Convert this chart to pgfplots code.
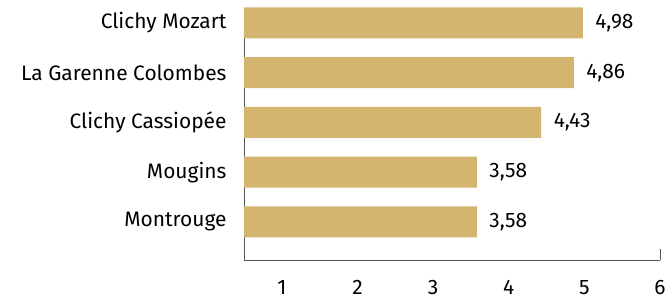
\documentclass[border=0pt]{standalone}
\usepackage{pgfplots}
\pgfplotsset{compat=1.18}
\usepackage{fontspec}
\setmainfont{Fira Sans}
\definecolor{barcol}{HTML}{D3B570}
\definecolor{axcol}{HTML}{555555}
\begin{document}
\begin{tikzpicture}
\path[use as bounding box] (-244bp,-41bp) rectangle (422bp,260bp);
\begin{axis}[
  at={(0,0)}, anchor=south west,
  scale only axis, width=416bp, height=252bp,
  xbar, bar width=31bp,
  xmin=0.5, xmax=6, ymin=-0.764, ymax=4.30,
  axis x line*=bottom, axis y line*=left,
  axis line style={draw=axcol, line width=0.9bp, -},
  xtick={1,2,3,4,5,6},
  ytick={0,1,2,3,4},
  yticklabels={Montrouge, Mougins, Clichy Cassiopée, La Garenne Colombes, Clichy Mozart},
  major tick length=0pt,
  extra x ticks={6}, extra x tick labels={},
  extra x tick style={tick align=inside, major tick length=11bp, tick style={draw=axcol, line width=0.9bp}},
  xticklabel style={yshift=-19bp, inner sep=1bp},
  yticklabel style={xshift=-14bp},
  tick label style={font=\fontsize{21}{24}\selectfont, text=black},
  /pgf/number format/assume math mode=true,
  nodes near coords,
  nodes near coords style={font=\fontsize{21}{24}\selectfont, anchor=west, xshift=9bp, text=black,
    /pgf/number format/.cd, fixed, precision=2, fixed zerofill, use comma},
  point meta=explicit,
]
\addplot[fill=barcol, draw=none] coordinates {
  (3.58,0) [3.58]
  (3.58,1) [3.58]
  (4.43,2) [4.43]
  (4.86,3) [4.86]
  (4.98,4) [4.98]
};
\end{axis}
\end{tikzpicture}
\end{document}
